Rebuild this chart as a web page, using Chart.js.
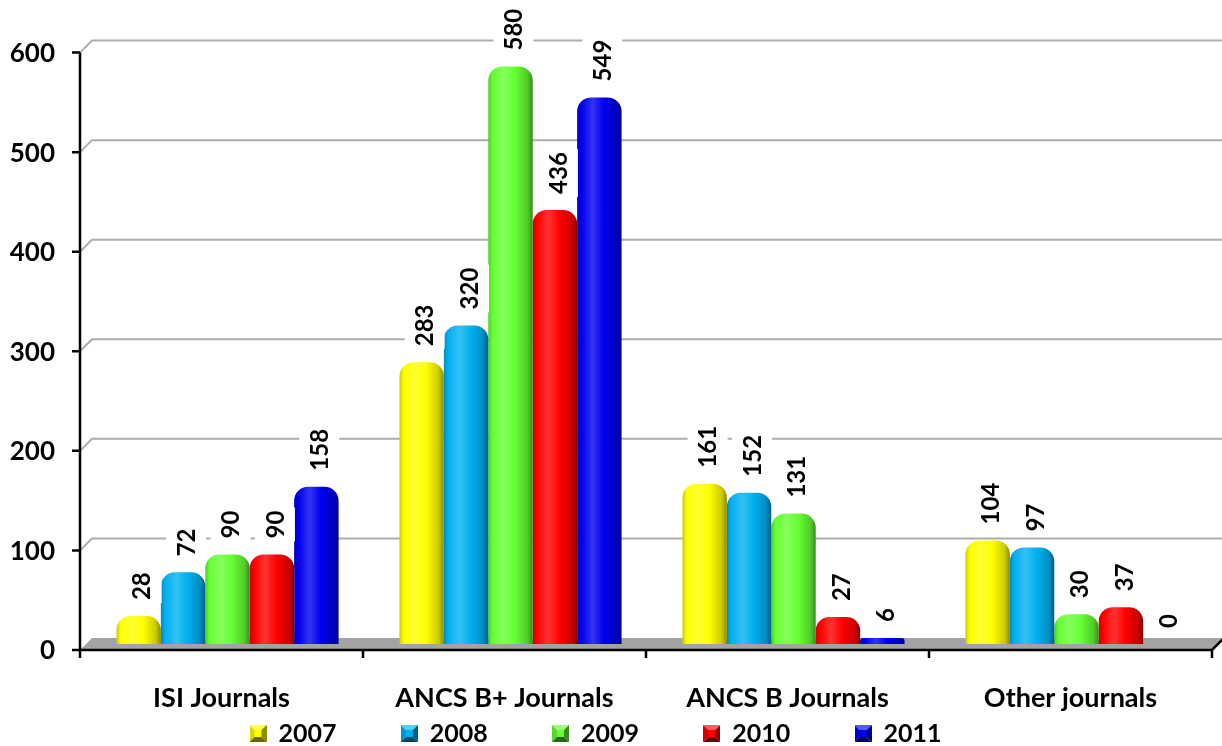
<!DOCTYPE html>
<html>
<head>
<meta charset="utf-8">
<script src="https://cdn.jsdelivr.net/npm/chart.js@4.4.0/dist/chart.umd.min.js"></script>
<style>
  html, body { margin: 0; padding: 0; background: #fff; }
</style>
</head>
<body>
<canvas id="journalsCanvas" width="1222" height="746"></canvas>
<script>
// data
var categories = ['ISI Journals', 'ANCS B+ Journals', 'ANCS B Journals', 'Other journals'];
var years = ['2007', '2008', '2009', '2010', '2011'];
var values2007 = [28, 283, 161, 104];
var values2008 = [72, 320, 152, 97];
var values2009 = [90, 580, 131, 30];
var values2010 = [90, 436, 27, 37];
var values2011 = [158, 549, 6, 0];
var yTicks = [0, 100, 200, 300, 400, 500, 600];

var barColors = ['#FFFF00', '#00B0F0', '#66FF33', '#FF0000', '#0000F0'];
var depth = 6;            // fake 3d offset
var legendStartX = 250;
var legendGap = '          ';
var fontFamily = 'Lato';

function shade(hex, f) {
  var n = parseInt(hex.slice(1), 16);
  var r = (n >> 16) & 255, g = (n >> 8) & 255, b = n & 255;
  if (f < 1) { r *= f; g *= f; b *= f; }
  else { var t = f - 1; r += (255 - r) * t; g += (255 - g) * t; b += (255 - b) * t; }
  return 'rgb(' + Math.round(r) + ',' + Math.round(g) + ',' + Math.round(b) + ')';
}

// little bevelled squares for the legend
function bevelBox(color) {
  var s = 17, m = s / 2, cv = document.createElement('canvas');
  cv.width = s; cv.height = s;
  var g = cv.getContext('2d');
  function tri(pts, fill) {
    g.fillStyle = fill; g.beginPath(); g.moveTo(pts[0], pts[1]);
    for (var i = 2; i < pts.length; i += 2) g.lineTo(pts[i], pts[i + 1]);
    g.closePath(); g.fill();
  }
  tri([0, 0, s, 0, m, m], shade(color, 1.35));
  tri([0, 0, 0, s, m, m], shade(color, 0.85));
  tri([s, 0, s, s, m, m], shade(color, 0.55));
  tri([0, s, s, s, m, m], shade(color, 0.4));
  g.fillStyle = color; g.fillRect(5, 5, s - 10, s - 10);
  return cv;
}
var legendBoxes = barColors.map(bevelBox);

var allValues = [values2007, values2008, values2009, values2010, values2011];
var datasets = years.map(function (y, i) {
  return {
    label: y,
    data: allValues[i],
    backgroundColor: function () { return barColors[i]; },
    borderWidth: 0,
    borderRadius: { topLeft: 14, topRight: 14, bottomLeft: 0, bottomRight: 0 },
    borderSkipped: 'start',
    categoryPercentage: 0.785,
    barPercentage: 1.0
  };
});

var depthPlugin = {
  id: 'depth',
  afterLayout: function (chart) {
    var lg = chart.legend;
    if (lg && lg.lineWidths) {
      var p = lg.options.labels.padding;
      lg.lineWidths[0] = lg.left + p + lg.right - 2 * legendStartX;
    }
  },
  beforeDatasetsDraw: function (chart) {
    var c = chart.ctx, a = chart.chartArea, ys = chart.scales.y;
    var y0 = ys.getPixelForValue(0);
    c.save();
    // floor
    c.fillStyle = '#A3A3A3';
    c.beginPath();
    c.moveTo(a.left - depth, y0 + depth);
    c.lineTo(a.left + depth, y0 - depth);
    c.lineTo(a.right + depth, y0 - depth);
    c.lineTo(a.right - depth, y0 + depth);
    c.closePath();
    c.fill();
    // back gridlines
    c.strokeStyle = '#ADADAD';
    c.lineWidth = 2;
    yTicks.forEach(function (v) {
      if (v === 0) return;
      var py = ys.getPixelForValue(v);
      c.beginPath();
      c.moveTo(a.left - depth, py + depth);
      c.lineTo(a.left + depth, py - depth);
      c.lineTo(a.right + depth, py - depth);
      c.stroke();
    });
    c.restore();
    // cylinder shading
    chart.data.datasets.forEach(function (ds, i) {
      var base = barColors[i];
      chart.getDatasetMeta(i).data.forEach(function (el) {
        var g = c.createLinearGradient(el.x - el.width / 2, 0, el.x + el.width / 2, 0);
        g.addColorStop(0, shade(base, 0.8));
        g.addColorStop(0.1, base);
        g.addColorStop(0.35, shade(base, 1.2));
        g.addColorStop(0.6, base);
        g.addColorStop(0.88, shade(base, 0.8));
        g.addColorStop(1, shade(base, 0.55));
        el.options.backgroundColor = g;
      });
    });
  },
  afterDatasetsDraw: function (chart) {
    var c = chart.ctx, a = chart.chartArea, ys = chart.scales.y;
    var y0 = ys.getPixelForValue(0) + depth;
    var fx = a.left - depth, fr = a.right - depth;
    c.save();
    // front axes
    c.strokeStyle = '#000';
    c.lineWidth = 2.5;
    c.beginPath();
    c.moveTo(fx, ys.getPixelForValue(600) + depth);
    c.lineTo(fx, y0 + 8);
    c.moveTo(fx, y0);
    c.lineTo(fr, y0);
    c.lineTo(a.right + depth + 2, y0 - 2 * depth - 2);
    yTicks.forEach(function (v) {
      var py = ys.getPixelForValue(v) + depth;
      c.moveTo(fx - 8, py);
      c.lineTo(fx, py);
    });
    var step = (a.right - a.left) / categories.length;
    for (var k = 1; k <= categories.length; k++) {
      c.moveTo(fx + k * step, y0);
      c.lineTo(fx + k * step, y0 + 8);
    }
    c.stroke();

    // value labels
    c.font = 'bold 24px ' + fontFamily;
    c.textAlign = 'left';
    c.textBaseline = 'middle';
    chart.data.datasets.forEach(function (ds, i) {
      chart.getDatasetMeta(i).data.forEach(function (el, j) {
        var text = String(ds.data[j]);
        var tw = c.measureText(text).width;
        c.save();
        c.translate(el.x + 3, el.y - 16);
        c.rotate(-Math.PI / 2);
        c.fillStyle = '#fff';
        c.fillRect(-3, -20, tw + 6, 40);
        c.fillStyle = '#000';
        c.fillText(text, 0, 1);
        c.restore();
      });
    });
    c.restore();
  }
};

var context = document.getElementById('journalsCanvas');

new Chart(context, {
  type: 'bar',
  data: { labels: categories, datasets: datasets },
  options: {
    responsive: false,
    animation: false,
    layout: { padding: { top: 44, right: 4, bottom: -10, left: 0 } },
    scales: {
      x: {
        grid: { display: false, drawTicks: false },
        border: { display: false },
        ticks: {
          color: '#000',
          font: { family: fontFamily, size: 27, weight: 'bold' },
          padding: 38,
          labelOffset: -depth,
          maxRotation: 0,
          autoSkip: false
        },
        afterFit: function (s) { s.height = 73; }
      },
      y: {
        min: 0,
        max: 600,
        grid: { display: false, drawTicks: false },
        border: { display: false },
        afterBuildTicks: function (s) {
          s.ticks = yTicks.map(function (v) { return { value: v }; });
        },
        ticks: {
          color: '#000',
          font: { family: fontFamily, size: 26, weight: 'bold' },
          padding: 31,
          labelOffset: depth + 1
        },
        afterFit: function (s) { s.width = 86; }
      }
    },
    plugins: {
      legend: {
        position: 'bottom',
        labels: {
          usePointStyle: true,
          boxWidth: 16,
          boxHeight: 16,
          padding: 4,
          color: '#000',
          font: { family: fontFamily, size: 25, weight: 'bold' },
          generateLabels: function (chart) {
            return chart.data.datasets.map(function (ds, i) {
              return {
                text: ds.label + legendGap,
                fillStyle: barColors[i],
                strokeStyle: barColors[i],
                lineWidth: 0,
                pointStyle: legendBoxes[i],
                fontColor: '#000',
                hidden: false,
                datasetIndex: i
              };
            });
          }
        }
      },
      tooltip: { enabled: false }
    }
  },
  plugins: [depthPlugin]
});
</script>
</body>
</html>
